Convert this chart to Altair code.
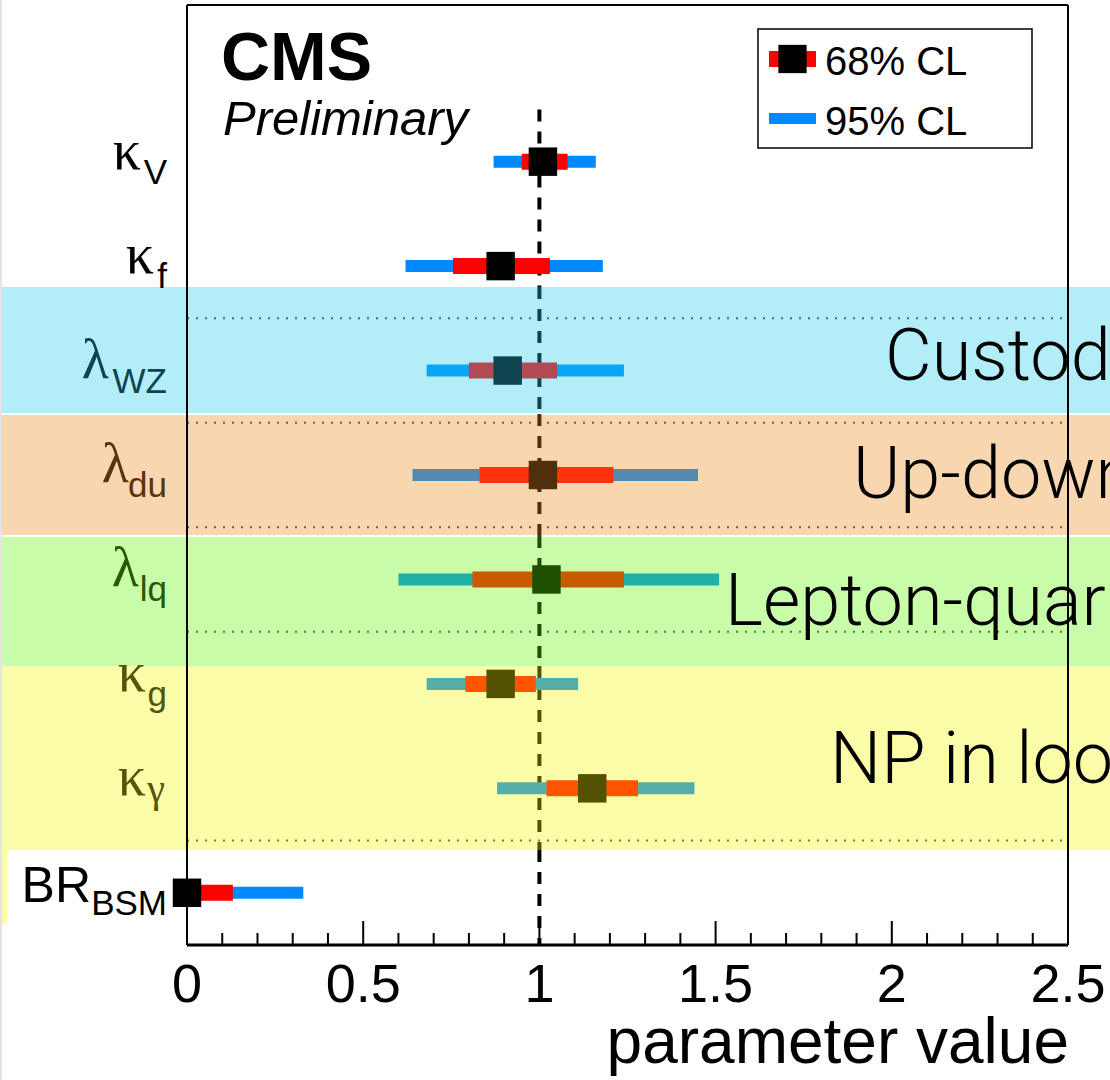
import altair as alt
import pandas as pd

# ---------------- data ----------------
main_sym = ["κ", "κ", "λ", "λ", "λ", "κ", "κ", "BR"]
sub_sym = ["V", "f", "WZ", "du", "lq", "g", "γ", "BSM"]
row_y = [7.5, 6.5, 5.5, 4.5, 3.5, 2.5, 1.5, 0.5]
best_fit = [1.01, 0.89, 0.91, 1.01, 1.02, 0.89, 1.15, 0.00]
lo68 = [0.95, 0.755, 0.80, 0.83, 0.81, 0.79, 1.02, 0.00]
hi68 = [1.08, 1.03, 1.05, 1.21, 1.24, 0.99, 1.28, 0.13]
lo95 = [0.87, 0.62, 0.68, 0.64, 0.60, 0.68, 0.88, 0.00]
hi95 = [1.16, 1.18, 1.24, 1.45, 1.51, 1.11, 1.44, 0.33]
row_group = ["none", "none", "cyan", "peach", "green", "yellow", "yellow", "none"]

band_group = ["cyan", "peach", "green", "yellow"]
band_label = ["Custodial symmetry", "Up-down symmetry", "Lepton-quark symmetry", "NP in loops"]
band_top = [6.30, 5.075, 3.907, 2.671]
band_bottom = [5.094, 3.926, 2.671, 0.910]

sep_y = [6, 5, 4, 3, 1]
sep_group = ["cyan", "peach", "peach", "green", "yellow"]

ref_value = 1.0
dash_top = [8.0, 6.30, 5.085, 3.916, 2.671, 0.910]
dash_bottom = [6.30, 5.085, 3.916, 2.671, 0.910, 0.0]
dash_group = ["none", "cyan", "peach", "green", "yellow", "none"]

major_ticks = [0, 0.5, 1, 1.5, 2, 2.5]
minor_ticks = [0.1, 0.2, 0.3, 0.4, 0.6, 0.7, 0.8, 0.9, 1.1, 1.2, 1.3, 1.4,
               1.6, 1.7, 1.8, 1.9, 2.1, 2.2, 2.3, 2.4]

# ---------------- styles / layout ----------------
PALETTE = {
    "none":   dict(band="#FFFFFF", c95="#0088FF", c68="#FF0000", mark="#000000", text="#000000", sep="#555555"),
    "cyan":   dict(band="#B3EEF8", c95="#0AA5F5", c68="#B04A55", mark="#0E4450", text="#0E4450", sep="#3E6E76"),
    "peach":  dict(band="#F8D7B0", c95="#548AB0", c68="#FF320A", mark="#4F2F0C", text="#5A3410", sep="#7A5C44"),
    "green":  dict(band="#C8FCA8", c95="#20B0A8", c68="#C85A00", mark="#1E5000", text="#2A5800", sep="#4E7A3A"),
    "yellow": dict(band="#FAFCA8", c95="#55AEA8", c68="#FF5500", mark="#525200", text="#55550A", sep="#7A7A3A"),
}
W, H = 881, 940
PAD = {"left": 187, "top": 5, "right": 42, "bottom": 135}
main_label_right = [-46, -33, -78, -58, -48, -41, -41, -96]
band_text_x = [698, 666, 538, 643]
band_text_y = [375, 493, 620, 778]

x_scale = alt.Scale(domain=[0, 2.5], nice=False, zero=False)
y_scale = alt.Scale(domain=[0, 9], nice=False, zero=False)

rows = pd.DataFrame({
    "main": main_sym, "sub": sub_sym, "pos": row_y, "best": best_fit,
    "lo68": lo68, "hi68": hi68, "lo95": lo95, "hi95": hi95,
    "c95": [PALETTE[g]["c95"] for g in row_group],
    "c68": [PALETTE[g]["c68"] for g in row_group],
    "cm": [PALETTE[g]["mark"] for g in row_group],
    "tc": [PALETTE[g]["text"] for g in row_group],
    "mx": main_label_right,
})
bands = pd.DataFrame({
    "top": band_top, "bottom": band_bottom, "label": band_label,
    "fill": [PALETTE[g]["band"] for g in band_group],
    "tx": band_text_x, "ty": band_text_y,
})
seps = pd.DataFrame({"y": sep_y, "c": [PALETTE[g]["sep"] for g in sep_group]})
dashes = pd.DataFrame({"x": [ref_value] * len(dash_top), "top": dash_top, "bottom": dash_bottom,
                       "c": [PALETTE[g]["mark"] for g in dash_group]})
majors = pd.DataFrame({"t": major_ticks})
minors = pd.DataFrame({"t": minor_ticks})
one = pd.DataFrame({"a": [0]})

Y = lambda f: alt.Y(f, scale=y_scale, axis=None)
X = lambda f: alt.X(f, scale=x_scale, axis=None)

band_layer = alt.Chart(bands).mark_rect().encode(
    x=alt.value(-PAD["left"]), x2=alt.value(W + PAD["right"]),
    y=Y("top:Q"), y2="bottom:Q", color=alt.Color("fill:N", scale=None))
strip_layer = alt.Chart(one).mark_rect(color=PALETTE["yellow"]["band"]).encode(
    x=alt.value(-PAD["left"]), x2=alt.value(-PAD["left"] + 7), y=alt.value(845), y2=alt.value(919))
edge_layer = alt.Chart(one).mark_rule(color="#E4E4E4", strokeWidth=2).encode(
    x=alt.value(-PAD["left"] + 1), y=alt.value(-PAD["top"]), y2=alt.value(H + PAD["bottom"]))

sep_layer = alt.Chart(seps).mark_rule(strokeDash=[2, 7], strokeWidth=2).encode(
    x=alt.value(0), x2=alt.value(W - 5), y=Y("y:Q"), color=alt.Color("c:N", scale=None))

dash_layer = alt.Chart(dashes).mark_rule(strokeDash=[12, 10], strokeWidth=4).encode(
    x=X("x:Q"), y=Y("top:Q"), y2="bottom:Q", color=alt.Color("c:N", scale=None))

bar95 = alt.Chart(rows).mark_rule(strokeWidth=12, strokeCap="butt").encode(
    x=X("lo95:Q"), x2="hi95:Q", y=Y("pos:Q"), color=alt.Color("c95:N", scale=None))
bar68 = alt.Chart(rows).mark_rule(strokeWidth=16, strokeCap="butt").encode(
    x=X("lo68:Q"), x2="hi68:Q", y=Y("pos:Q"), color=alt.Color("c68:N", scale=None))
marks = alt.Chart(rows).mark_square(size=810, opacity=1, filled=True).encode(
    x=X("best:Q"), y=Y("pos:Q"), color=alt.Color("cm:N", scale=None))

frame_top = alt.Chart(one).mark_rule(color="black", strokeWidth=2).encode(
    x=alt.value(0), x2=alt.value(W), y=alt.value(0))
frame_bottom = alt.Chart(one).mark_rule(color="black", strokeWidth=3).encode(
    x=alt.value(0), x2=alt.value(W), y=alt.value(H))
frame_left = alt.Chart(one).mark_rule(color="black", strokeWidth=2).encode(
    x=alt.value(0), y=alt.value(0), y2=alt.value(H))
frame_right = alt.Chart(one).mark_rule(color="black", strokeWidth=2).encode(
    x=alt.value(W), y=alt.value(0), y2=alt.value(H))

major_layer = alt.Chart(majors).mark_rule(color="black", strokeWidth=2).encode(
    x=X("t:Q"), y=alt.value(H - 24), y2=alt.value(H))
minor_layer = alt.Chart(minors).mark_rule(color="black", strokeWidth=2).encode(
    x=X("t:Q"), y=alt.value(H - 12), y2=alt.value(H))
tick_labels = alt.Chart(majors).mark_text(
    font="Liberation Sans", fontSize=54, align="center", baseline="alphabetic", color="black").encode(
    x=X("t:Q"), y=alt.value(H + 57), text=alt.Text("t:Q", format="~g"))

greek_main = alt.Chart(rows).transform_filter("datum.main != 'BR'").mark_text(
    font="Liberation Serif", fontSize=56, align="right", baseline="alphabetic", dy=7).encode(
    x=alt.X("mx:Q", scale=None), y=Y("pos:Q"), text="main:N", color=alt.Color("tc:N", scale=None))
latin_main = alt.Chart(rows).transform_filter("datum.main == 'BR'").mark_text(
    font="Liberation Sans", fontSize=50, align="right", baseline="alphabetic", dy=9).encode(
    x=alt.X("mx:Q", scale=None), y=Y("pos:Q"), text="main:N", color=alt.Color("tc:N", scale=None))
latin_sub = alt.Chart(rows).transform_filter("datum.sub != 'γ'").mark_text(
    font="Liberation Sans", fontSize=35, align="right", baseline="alphabetic", dy=22).encode(
    x=alt.value(-20), y=Y("pos:Q"), text="sub:N", color=alt.Color("tc:N", scale=None))
greek_sub = alt.Chart(rows).transform_filter("datum.sub == 'γ'").mark_text(
    font="Liberation Serif", fontSize=40, align="right", baseline="alphabetic", dy=14).encode(
    x=alt.value(-22), y=Y("pos:Q"), text="sub:N", color=alt.Color("tc:N", scale=None))

band_text = alt.Chart(bands).mark_text(
    font="Roboto", fontWeight=300, fontSize=72, align="left", baseline="alphabetic", color="black").encode(
    x=alt.X("tx:Q", scale=None), y=alt.Y("ty:Q", scale=None), text="label:N")

cms = alt.Chart(one).mark_text(text="CMS", font="Liberation Sans", fontWeight="bold", fontSize=68,
                               align="left", baseline="alphabetic", color="black").encode(
    x=alt.value(34), y=alt.value(75))
prelim = alt.Chart(one).mark_text(text="Preliminary", font="Liberation Sans", fontStyle="italic",
                                  fontSize=49, align="left", baseline="alphabetic", color="black").encode(
    x=alt.value(36), y=alt.value(130))
xtitle = alt.Chart(one).mark_text(text="parameter value", font="Liberation Sans", fontSize=64,
                                  align="right", baseline="alphabetic", color="black").encode(
    x=alt.value(W + 1), y=alt.value(1058))

leg_box = alt.Chart(one).mark_rect(fill="white", stroke="black", strokeWidth=1.5).encode(
    x=alt.value(571), x2=alt.value(845), y=alt.value(24), y2=alt.value(143))
leg_red = alt.Chart(one).mark_rule(color="#FF0000", strokeWidth=16).encode(
    x=alt.value(582), x2=alt.value(629), y=alt.value(54))
leg_sq = alt.Chart(one).mark_square(size=800, color="black", filled=True, opacity=1).encode(
    x=alt.value(605.5), y=alt.value(54))
leg_blue = alt.Chart(one).mark_rule(color="#0088FF", strokeWidth=11).encode(
    x=alt.value(582), x2=alt.value(629), y=alt.value(113.5))
leg_t1 = alt.Chart(one).mark_text(text="68% CL", font="Liberation Sans", fontSize=40, align="left",
                                  baseline="alphabetic", color="black").encode(
    x=alt.value(638), y=alt.value(70))
leg_t2 = alt.Chart(one).mark_text(text="95% CL", font="Liberation Sans", fontSize=40, align="left",
                                  baseline="alphabetic", color="black").encode(
    x=alt.value(638), y=alt.value(130))

chart = alt.layer(
    band_layer, strip_layer, edge_layer, sep_layer, dash_layer, bar95, bar68, marks,
    frame_top, frame_bottom, frame_left, frame_right, major_layer, minor_layer, tick_labels,
    greek_main, latin_main, latin_sub, greek_sub, band_text, cms, prelim, xtitle,
    leg_box, leg_red, leg_sq, leg_blue, leg_t1, leg_t2,
).properties(
    width=W, height=H, padding=PAD, autosize=alt.AutoSizeParams(type="none"), background="white",
).configure_view(stroke=None)

chart.save("out.html", embed_options={"renderer": "svg", "actions": False})
